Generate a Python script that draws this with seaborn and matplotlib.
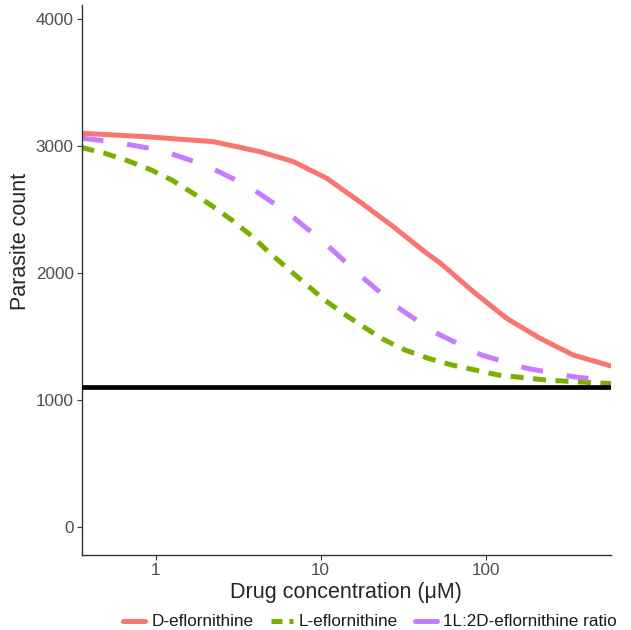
import pandas as pd
import matplotlib.pyplot as plt
import seaborn as sns
from matplotlib.lines import Line2D

sns.set_style("ticks")
plt.rcParams["font.family"] = ["Liberation Sans", "DejaVu Sans"]

# 数据：剂量-反应曲线点 (浓度 μM, 寄生虫计数)
d_conc = [0.356, 0.884, 2.24, 4.30, 6.84, 10.9, 17.3, 27.6, 44.0, 53.0, 84.3, 134.4, 213.9, 340.6, 576]
d_count = [3100, 3073, 3034, 2955, 2877, 2746, 2561, 2365, 2155, 2080, 1853, 1643, 1486, 1354, 1268]

l_conc = [0.356, 0.494, 0.684, 0.926, 1.254, 1.694, 2.24, 2.90, 3.83, 4.83, 6.24, 8.05,
          10.4, 13.7, 18.2, 24.0, 32.5, 45.0, 62.4, 119.6, 235, 450, 576]
l_count = [2988, 2942, 2882, 2816, 2732, 2627, 2522, 2417, 2291, 2168, 2042, 1919,
           1795, 1683, 1577, 1478, 1394, 1328, 1276, 1197, 1157, 1136, 1130]

r_conc = [0.356, 0.543, 1.065, 1.995, 3.65, 6.38, 10.65, 17.3, 29.0, 48.3, 94.8, 177.7, 340.6, 576]
r_count = [3062, 3034, 2968, 2850, 2685, 2470, 2234, 1984, 1735, 1538, 1354, 1250, 1183, 1150]

labels = ["D-eflornithine", "L-eflornithine", "1L:2D-eflornithine ratio"]
colors = ["#F8766D", "#7CAE00", "#C77CFF"]
baseline = 1100

df = pd.concat([
    pd.DataFrame({"conc": d_conc, "count": d_count, "drug": labels[0]}),
    pd.DataFrame({"conc": l_conc, "count": l_count, "drug": labels[1]}),
    pd.DataFrame({"conc": r_conc, "count": r_count, "drug": labels[2]}),
])

dash_map = {labels[0]: "", labels[1]: (2.6, 1.9), labels[2]: (4.4, 4.8)}
lw = 3.6

fig = plt.figure(figsize=(6.31, 6.30), dpi=100)
ax = fig.add_axes([81.5 / 631, 75 / 630, 529.5 / 631, 550 / 630])

sns.lineplot(data=df, x="conc", y="count", hue="drug", style="drug",
             palette=dict(zip(labels, colors)), dashes=dash_map,
             linewidth=lw, estimator=None, legend=False, ax=ax)
ax.axhline(baseline, color="black", lw=3.4, zorder=5)

ax.set_xscale("log")
ax.set_xlim(0.356, 576)
ax.set_ylim(-220, 4110)
ax.set_xticks([1, 10, 100])
ax.set_xticklabels(["1", "10", "100"])
ax.xaxis.set_minor_locator(plt.NullLocator())
ax.set_yticks([0, 1000, 2000, 3000, 4000])
ax.tick_params(labelsize=12.3, labelcolor="#4D4D4D", color="#333333",
               length=3.5, width=0.8, pad=2)
for s in ["top", "right"]:
    ax.spines[s].set_visible(False)
for s in ["left", "bottom"]:
    ax.spines[s].set_color("#333333")
    ax.spines[s].set_linewidth(1.0)

ax.set_xlabel("Drug concentration (μM)", fontsize=15.5)
ax.set_ylabel("Parasite count", fontsize=15.5)
ax.xaxis.set_label_coords(0.5, (555 - 598) / 550)
ax.xaxis.label.set_va("baseline")
ax.yaxis.set_label_coords((21 - 81.5) / 529.5, (555 - 241) / 550)
ax.yaxis.label.set_va("center")

handles = [Line2D([], [], color=colors[0], lw=lw),
           Line2D([], [], color=colors[1], lw=lw, dashes=(2.2, 1.4)),
           Line2D([], [], color=colors[2], lw=lw)]
fig.legend(handles, labels, loc="center", bbox_to_anchor=(370 / 631, 1 - 622 / 630),
           ncol=3, frameon=False, fontsize=12.3, handlelength=1.3,
           handletextpad=0.35, columnspacing=1.0, labelcolor="#1A1A1A")

plt.savefig("out.png", dpi=100)
